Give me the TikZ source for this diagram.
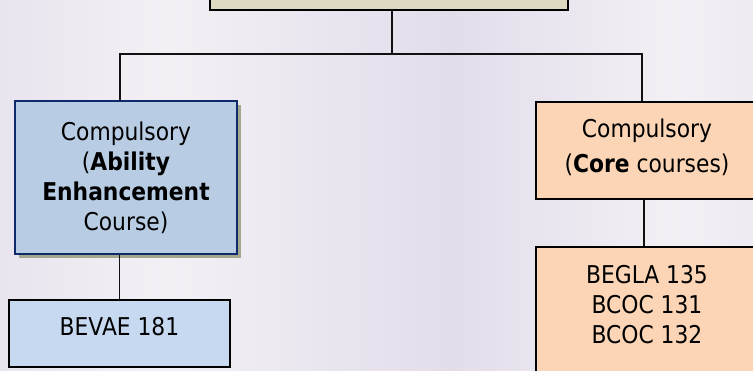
\documentclass[tikz,border=0pt]{standalone}
\usepackage{fontspec}
\setmainfont{DejaVu Sans}[FakeStretch=0.89]
\usetikzlibrary{shadows}
\definecolor{bglight}{HTML}{F2F0F5}
\definecolor{bgdark}{HTML}{E3DDEA}
\definecolor{topfill}{HTML}{DDD8C2}
\definecolor{aefill}{HTML}{B8CCE4}
\definecolor{aeborder}{HTML}{0E2A6B}
\definecolor{aeshadow}{HTML}{A2A78D}
\definecolor{bevfill}{HTML}{C6D9F1}
\definecolor{peach}{HTML}{FBD5B5}
\definecolor{linec}{HTML}{111111}
\pgfdeclarehorizontalshading{bgshade}{100bp}{
  color(0bp)=(bglight); color(18bp)=(bgdark); color(36bp)=(bglight);
  color(55bp)=(bgdark); color(70bp)=(bglight); color(87bp)=(bgdark);
  color(100bp)=(bglight)}
\tikzset{
  box/.style={draw=black, line width=1.8pt, inner sep=0pt, align=center},
  topbox/.style={box, fill=topfill, minimum width=358pt, minimum height=50pt},
  aebox/.style={box, draw=aeborder, line width=2.2pt, fill=aefill,
    minimum width=222pt, minimum height=153pt,
    drop shadow={shadow xshift=4pt, shadow yshift=-4pt, fill=aeshadow, opacity=1}},
  bevbox/.style={box, fill=bevfill, minimum width=221pt, minimum height=67pt},
  corebox/.style={box, fill=peach, minimum width=222pt},
  txt/.style={align=center, inner sep=0pt},
  conn/.style={draw=linec, line width=1.6pt},
  every node/.style={font=\fontsize{24.5}{30}\selectfont}
}
\begin{document}
\begin{tikzpicture}[x=1pt,y=-1pt]
\useasboundingbox (0,0) rectangle (753,371);
\shade[shading=bgshade] (0,0) rectangle (753,371);
% nodes
\node[topbox] (top) at (389,-15) {};
\coordinate (j) at (392,54);
\coordinate (jl) at (120,54);
\coordinate (jr) at (642,54);
\node[aebox] (ae) at (126,177.5) {Compulsory\\(\textbf{Ability}\\\textbf{Enhancement}\\Course)};
\node[bevbox] (bev) at (119.5,333.5) {};
\node[txt] (bevt) at (119.5,327) {BEVAE 181};
\node[corebox, minimum height=97pt] (core) at (647,150.5) {};
\node[txt] (coret) at (647,147.5) {Compulsory\\[5pt](\textbf{Core} courses)};
\node[corebox, minimum height=134pt, anchor=north] (bc) at (647,246) {};
\node[txt] (bct) at (647,305) {BEGLA 135\\BCOC 131\\BCOC 132};
% connectors
\draw[conn] (top.south -| j) -- (j);
\draw[conn] (jl |- ae.north) -- (jl) -- (jr) -- (jr |- core.north);
\draw[conn] (ae.south -| bev.north) -- (bev.north);
\draw[conn] ([xshift=-3pt]core.south) -- ([xshift=-3pt]core.south |- bc.north);
\end{tikzpicture}
\end{document}
